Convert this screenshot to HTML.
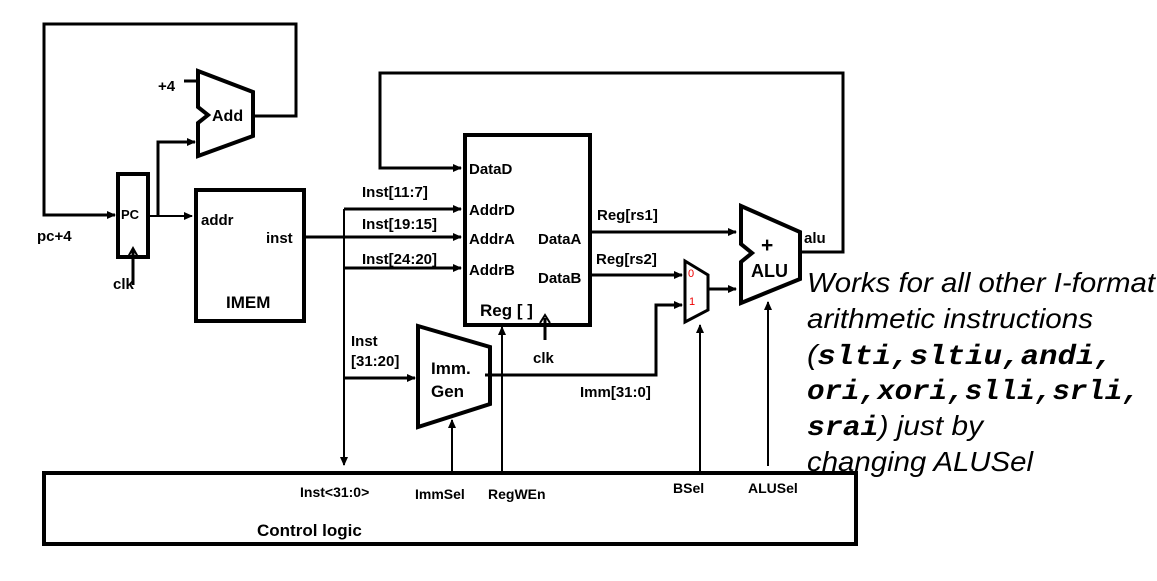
<!DOCTYPE html>
<html><head><meta charset="utf-8"><style>
html,body{margin:0;padding:0;background:#fff;}
svg{display:block;}
text{font-family:"Liberation Sans",Arial,sans-serif;font-weight:bold;fill:#000;}
.s{font-size:15px;}
.t{font-size:28px;font-style:italic;font-weight:normal;}
.m{font-family:"Liberation Mono",monospace;font-weight:bold;font-style:italic;}
</style></head><body>
<svg width="1157" height="581" viewBox="0 0 1157 581" xmlns="http://www.w3.org/2000/svg">
<defs><marker id="a" markerWidth="9" markerHeight="8" refX="8" refY="4" orient="auto" markerUnits="userSpaceOnUse"><path d="M0,0 L9,4 L0,8 z" fill="#000"/></marker></defs>
<g fill="none" stroke="#000" stroke-width="3">
<polyline points="253,116 296,116 296,24 44,24 44,215 115,215" marker-end="url(#a)"/>
<polygon points="198,71 253,92 253,136 198,156 198,123 208,115 198,107" stroke-width="4"/>
<line x1="184" y1="81" x2="198" y2="81"/>
<rect x="118" y="174" width="30" height="83" stroke-width="4"/>
<polyline points="128,257 133,248 138,257" stroke-width="2"/>
<line x1="133" y1="285" x2="133" y2="250"/>
<polyline points="148,216 192,216" stroke-width="2" marker-end="url(#a)"/>
<polyline points="158,216 158,142 195,142" marker-end="url(#a)"/>
<rect x="196" y="190" width="108" height="131" stroke-width="4"/>
<line x1="304" y1="237" x2="461" y2="237" marker-end="url(#a)"/>
<line x1="344" y1="209" x2="344" y2="465" stroke-width="2" marker-end="url(#a)"/>
<line x1="344" y1="209" x2="461" y2="209" marker-end="url(#a)"/>
<line x1="344" y1="268" x2="461" y2="268" marker-end="url(#a)"/>
<line x1="344" y1="378" x2="415" y2="378" marker-end="url(#a)"/>
<rect x="465" y="135" width="125" height="190" stroke-width="4"/>
<polyline points="540,323 545,315 550,323" stroke-width="2"/>
<line x1="545" y1="340" x2="545" y2="318"/>
<polyline points="800,252 843,252 843,73 380,73 380,168 461,168" marker-end="url(#a)"/>
<line x1="590" y1="232" x2="736" y2="232" marker-end="url(#a)"/>
<line x1="590" y1="275" x2="682" y2="275" marker-end="url(#a)"/>
<polygon points="685,261 708,275 708,310 685,322" stroke-width="3"/>
<line x1="708" y1="289" x2="736" y2="289" marker-end="url(#a)"/>
<polygon points="418,326 490,347 490,404 418,427" stroke-width="4"/>
<polyline points="485,375 656,375 656,305 682,305" marker-end="url(#a)"/>
<polygon points="741,206 800,232 800,279 741,303 741,262 752,253 741,244" stroke-width="4"/>
<line x1="452" y1="472" x2="452" y2="420" stroke-width="2" marker-end="url(#a)"/>
<line x1="502" y1="472" x2="502" y2="327" stroke-width="2" marker-end="url(#a)"/>
<line x1="700" y1="472" x2="700" y2="325" stroke-width="2" marker-end="url(#a)"/>
<line x1="768" y1="466" x2="768" y2="302" stroke-width="2" marker-end="url(#a)"/>
<rect x="44" y="473" width="812" height="71" stroke-width="4"/>
</g>
<text x="158" y="91" class="s">+4</text>
<text x="212" y="121" style="font-size:16px">Add</text>
<text x="121" y="219" style="font-size:13px">PC</text>
<text x="37" y="241" class="s">pc+4</text>
<text x="113" y="289" class="s">clk</text>
<text x="201" y="225" class="s">addr</text>
<text x="266" y="243" class="s">inst</text>
<text x="226" y="308" style="font-size:17px">IMEM</text>
<text x="362" y="197" class="s">Inst[11:7]</text>
<text x="362" y="229" class="s">Inst[19:15]</text>
<text x="362" y="264" class="s">Inst[24:20]</text>
<text x="351" y="346" class="s">Inst</text>
<text x="351" y="366" class="s">[31:20]</text>
<text x="469" y="174" class="s">DataD</text>
<text x="469" y="215" class="s">AddrD</text>
<text x="469" y="244" class="s">AddrA</text>
<text x="469" y="275" class="s">AddrB</text>
<text x="538" y="244" class="s">DataA</text>
<text x="538" y="283" class="s">DataB</text>
<text x="480" y="316" style="font-size:17px">Reg [ ]</text>
<text x="533" y="363" class="s">clk</text>
<text x="597" y="220" class="s">Reg[rs1]</text>
<text x="596" y="264" class="s">Reg[rs2]</text>
<text x="688" y="277" style="font-size:11px;font-weight:normal;fill:#e00">0</text>
<text x="689" y="305" style="font-size:11px;font-weight:normal;fill:#e00">1</text>
<text x="431" y="374" style="font-size:17px">Imm.</text>
<text x="431" y="397" style="font-size:17px">Gen</text>
<text x="580" y="397" class="s">Imm[31:0]</text>
<text x="761" y="252" style="font-size:21px">+</text>
<text x="751" y="277" style="font-size:18px">ALU</text>
<text x="804" y="243" class="s">alu</text>
<text x="300" y="497" style="font-size:14px">Inst&lt;31:0&gt;</text>
<text x="415" y="499" style="font-size:14px">ImmSel</text>
<text x="488" y="499" style="font-size:14px">RegWEn</text>
<text x="673" y="493" style="font-size:14px">BSel</text>
<text x="748" y="493" style="font-size:14px">ALUSel</text>
<text x="257" y="536" style="font-size:17px">Control logic</text>
<text x="807" y="292" class="t" textLength="348" lengthAdjust="spacingAndGlyphs">Works for all other I-format</text>
<text x="807" y="328" class="t" textLength="286" lengthAdjust="spacingAndGlyphs">arithmetic instructions</text>
<text x="807" y="364" class="t" textLength="306" lengthAdjust="spacingAndGlyphs">(<tspan class="m">slti,sltiu,andi,</tspan></text>
<text x="807" y="399" class="t" textLength="333" lengthAdjust="spacingAndGlyphs"><tspan class="m">ori,xori,slli,srli,</tspan></text>
<text x="807" y="435" class="t" textLength="176" lengthAdjust="spacingAndGlyphs"><tspan class="m">srai</tspan>) just by</text>
<text x="807" y="471" class="t" textLength="226" lengthAdjust="spacingAndGlyphs">changing ALUSel</text>
</svg>
</body></html>
